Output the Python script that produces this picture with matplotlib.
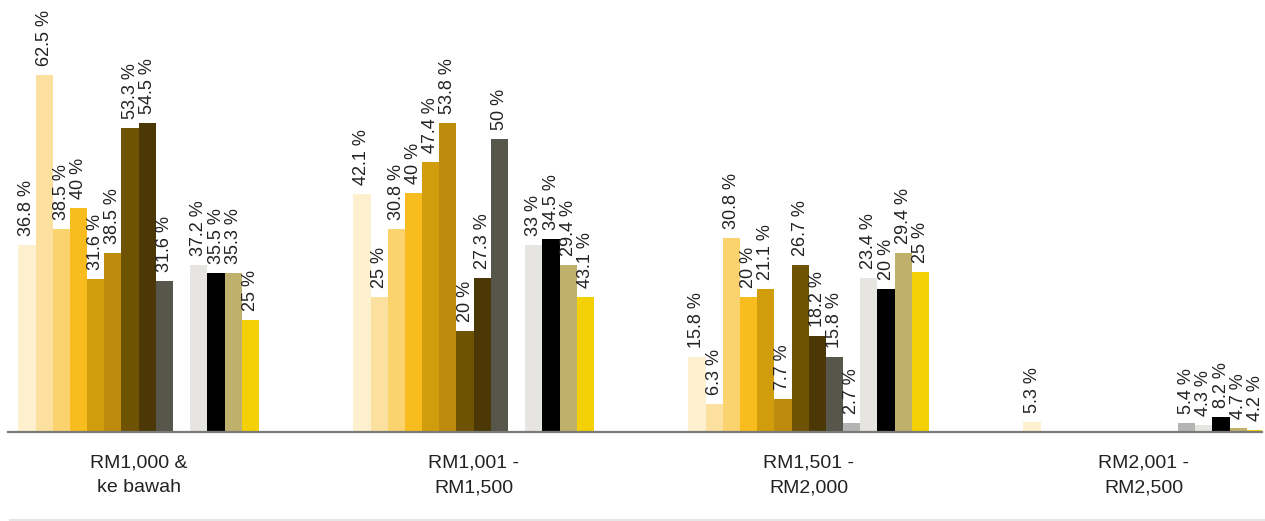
import matplotlib.pyplot as plt
from matplotlib.lines import Line2D

plt.rcParams["font.family"] = ["Liberation Sans", "DejaVu Sans"]

# Categories along the x axis
categories = [
    "RM1,000 &\nke bawah",
    "RM1,001 -\nRM1,500",
    "RM1,501 -\nRM2,000",
    "RM2,001 -\nRM2,500",
]

# Bar heights as drawn in the picture (14 series per category)
heights_rm1000 = [32.8, 62.5, 35.5, 39.2, 26.7, 31.3, 53.2, 54.0, 26.5, 0, 29.2, 27.9, 27.9, 19.6]
heights_rm1500 = [41.6, 23.7, 35.6, 41.8, 47.2, 54.1, 17.7, 27.0, 51.2, 0, 32.8, 33.8, 29.2, 23.7]
heights_rm2000 = [13.2, 4.9, 33.9, 23.7, 25.0, 5.7, 29.3, 16.8, 13.2, 1.6, 27.0, 25.0, 31.3, 28.0]
heights_rm2500 = [1.7, 0, 0, 0, 0, 0, 0, 0, 0, 1.6, 1.2, 2.7, 0.75, 0.35]

# Percentages printed above the bars (None = no label)
labels_rm1000 = [36.8, 62.5, 38.5, 40, 31.6, 38.5, 53.3, 54.5, 31.6, None, 37.2, 35.5, 35.3, 25]
labels_rm1500 = [42.1, 25, 30.8, 40, 47.4, 53.8, 20, 27.3, 50, None, 33, 34.5, 29.4, 43.1]
labels_rm2000 = [15.8, 6.3, 30.8, 20, 21.1, 7.7, 26.7, 18.2, 15.8, 2.7, 23.4, 20, 29.4, 25]
labels_rm2500 = [5.3, None, None, None, None, None, None, None, None, 5.4, 4.3, 8.2, 4.7, 4.2]

heights = [heights_rm1000, heights_rm1500, heights_rm2000, heights_rm2500]
labels = [labels_rm1000, labels_rm1500, labels_rm2000, labels_rm2500]

# Series colours, left to right inside each category
COLORS = [
    "#fdf0cf", "#fce0a0", "#fad36e", "#f8bc1e", "#d29d0c", "#bd8c0d", "#6d5302",
    "#4b3806", "#57564b", "#b4b4b4", "#e6e5e1", "#000000", "#bfb06b", "#f3d106",
]

BAR_WIDTH = 0.0513
n_series = len(COLORS)

fig = plt.figure(figsize=(12.65, 5.21), dpi=100)
ax = fig.add_axes([8 / 1265, 89 / 521, 1254 / 1265, 432 / 521])

for j in range(n_series):
    xs = [i + (j - (n_series - 1) / 2) * BAR_WIDTH for i in range(len(categories))]
    hs = [h[j] for h in heights]
    ax.bar(xs, hs, BAR_WIDTH, color=COLORS[j], linewidth=0)
    for x, h, lab in zip(xs, hs, [l[j] for l in labels]):
        if lab is None:
            continue
        ax.annotate(
            f"{lab:g} %",
            (x, h),
            xytext=(0, 6.5),
            textcoords="offset points",
            rotation=90,
            ha="center",
            va="bottom",
            fontsize=13,
            color="#222222",
        )

ax.set_xlim(-0.39, 3.353)
ax.set_ylim(0, 75.6)

for side in ["left", "right", "top"]:
    ax.spines[side].set_visible(False)
ax.spines["bottom"].set_color("#7a7a7a")
ax.spines["bottom"].set_linewidth(1.6)

ax.set_yticks([])
ax.set_xticks(range(len(categories)))
ax.set_xticklabels(categories, fontsize=14, color="#222222", linespacing=1.6)
ax.tick_params(axis="x", length=0, pad=16)

# faint rule along the bottom edge
fig.add_artist(Line2D([10 / 1265, 1], [1.5 / 521, 1.5 / 521], color="#e6e6e6", lw=1.5))

fig.savefig("out.png", dpi=100)
